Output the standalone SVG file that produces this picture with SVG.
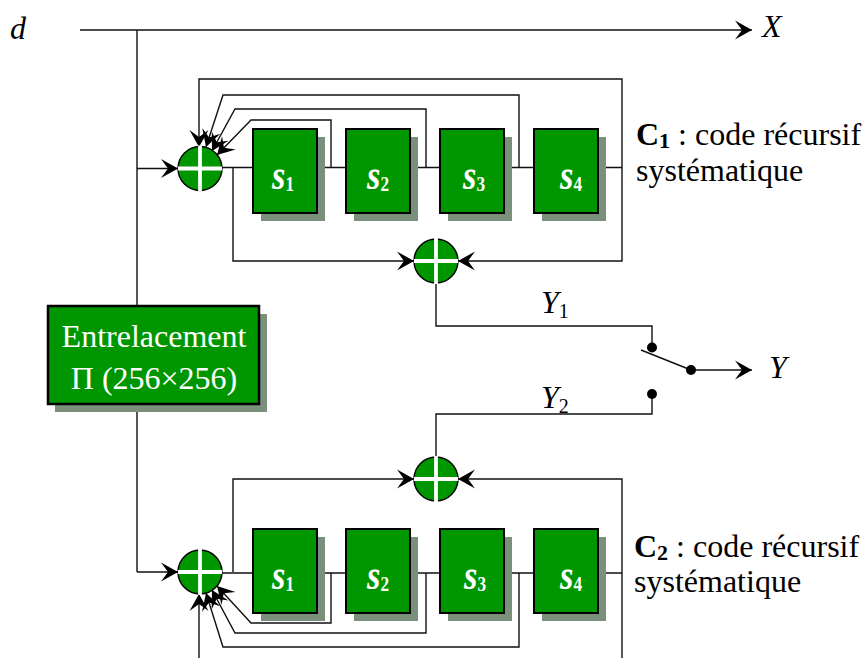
<svg xmlns="http://www.w3.org/2000/svg" width="866" height="658" viewBox="0 0 866 658">
<style>
.w{fill:none;stroke:#111;stroke-width:1.4}
.a{marker-end:url(#arr)}
.sh{fill:#7a907a}
.b{fill:#009600;stroke:#000;stroke-width:2}
.x{fill:#009600;stroke:#000;stroke-width:1.4}
.p{stroke:#fff;stroke-width:3.800;fill:none}
text{font-family:"Liberation Serif","Times New Roman",serif;fill:#000}
.t{font-size:32px}
.i{font-style:italic}
.s{font-size:42px;font-weight:bold;font-style:italic;fill:#fff}
.s tspan{font-size:21px;font-style:normal}
.e{font-size:32px;fill:#fff;text-anchor:middle}
</style>
<defs>
<marker id="arr" markerUnits="userSpaceOnUse" markerWidth="20" markerHeight="22" refX="17" refY="10" orient="auto" overflow="visible">
<path d="M17 10L0 0.500L7 10L0 19.500Z" fill="#000"/>
</marker>
<g id="block"><rect class="sh" x="8" y="8" width="64" height="84"/><rect class="b" width="64" height="84"/></g>
<g id="xor"><circle class="x" r="22"/><path class="p" d="M-22 0H22M0-23V23"/></g>
</defs>
<g id="connectors">
<path class="w a" d="M80 30H752"/>
<path class="w" d="M137 30V306M137 404V572"/>
<path class="w a" d="M137 168.500H178"/>
<path class="w a" d="M137 572H178"/>
<path class="w" d="M222 167.500H622M222 573H622"/>
<path class="w a" d="M622 167V79H199V147"/>
<path class="w a" d="M622 167V261H458"/>
<path class="w a" d="M233 168V261H414"/>
<path class="w a" d="M519 167V95H223L206 147"/>
<path class="w a" d="M426 167V109H235L212 151"/>
<path class="w a" d="M331 167V120H251L217 155"/>
<path class="w a" d="M233 572V479H414"/>
<path class="w a" d="M622 658V479H458"/>
<path class="w a" d="M199 658V594"/>
<path class="w a" d="M519 573V647H223L206 593"/>
<path class="w a" d="M426 573V633H235L212 590"/>
<path class="w a" d="M331 573V623H251L217 586"/>
<path class="w" d="M436 283V326H652V347M436 458V414H652V394"/>
<path class="w" d="M641 350L691 370"/>
<path class="w a" d="M691 370H752"/>
<circle cx="652" cy="347.500" r="5" fill="#000"/>
<circle cx="652" cy="394" r="5" fill="#000"/>
<circle cx="691" cy="370" r="5" fill="#000"/>
</g>
<g id="xor1"><use href="#xor" x="200" y="168.500"/></g>
<g id="xor2"><use href="#xor" x="436" y="261"/></g>
<g id="xor3"><use href="#xor" x="436" y="479"/></g>
<g id="xor4"><use href="#xor" x="200" y="572"/></g>
<g id="s1a"><use href="#block" x="253" y="129"/><text class="s" transform="translate(272 189) scale(.82 1)">s<tspan dy="2">1</tspan></text></g>
<g id="s2a"><use href="#block" x="346" y="129"/><text class="s" transform="translate(367 189) scale(.82 1)">s<tspan dy="2">2</tspan></text></g>
<g id="s3a"><use href="#block" x="440" y="129"/><text class="s" transform="translate(463 189) scale(.82 1)">s<tspan dy="2">3</tspan></text></g>
<g id="s4a"><use href="#block" x="534" y="129"/><text class="s" transform="translate(560 189) scale(.82 1)">s<tspan dy="2">4</tspan></text></g>
<g id="s1b"><use href="#block" x="253" y="529"/><text class="s" transform="translate(272 589) scale(.82 1)">s<tspan dy="2">1</tspan></text></g>
<g id="s2b"><use href="#block" x="346" y="529"/><text class="s" transform="translate(367 589) scale(.82 1)">s<tspan dy="2">2</tspan></text></g>
<g id="s3b"><use href="#block" x="440" y="529"/><text class="s" transform="translate(464 589) scale(.82 1)">s<tspan dy="2">3</tspan></text></g>
<g id="s4b"><use href="#block" x="534" y="529"/><text class="s" transform="translate(560 589) scale(.82 1)">s<tspan dy="2">4</tspan></text></g>
<g id="entrelacement">
<rect class="sh" x="55" y="314" width="212" height="98"/>
<rect x="48" y="306" width="211" height="98" fill="#009600" stroke="#000" stroke-width="2.500"/>
<text class="e" x="154" y="347">Entrelacement</text>
<text class="e" x="154" y="389">Π (256×256)</text>
</g>
<g id="labels">
<text class="t i" x="10" y="39">d</text>
<text class="t i" x="762" y="37">X</text>
<text class="t i" x="769" y="378">Y</text>
<text class="t i" x="541" y="313">Y<tspan font-size="20" font-style="normal" dy="5">1</tspan></text>
<text class="t i" x="541" y="408">Y<tspan font-size="20" font-style="normal" dy="5">2</tspan></text>
<text class="t" x="636" y="145"><tspan font-weight="bold">C</tspan><tspan font-weight="bold" font-size="22" dy="3">1</tspan><tspan dy="-3"> : code récursif</tspan></text>
<text class="t" x="636" y="181">systématique</text>
<text class="t" x="634" y="557"><tspan font-weight="bold">C</tspan><tspan font-weight="bold" font-size="22" dy="3">2</tspan><tspan dy="-3"> : code récursif</tspan></text>
<text class="t" x="634" y="592">systématique</text>
</g>
</svg>
